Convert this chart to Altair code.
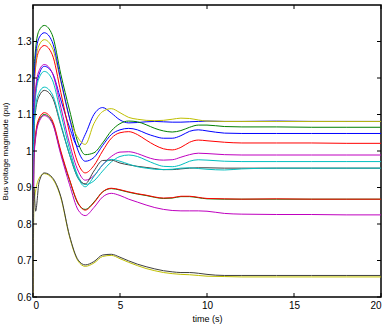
import altair as alt
import pandas as pd

# time axis (s)
time_s = [0, 0.05, 0.15, 0.35, 0.65, 1.1, 1.6, 2.1, 2.6, 3.0, 3.5, 4.0, 4.5, 5.0, 5.5,
          6.0, 6.5, 7.0, 7.5, 8.0, 8.5, 9.0, 9.5, 10, 11, 12, 14, 16, 18, 20]

# bus voltage magnitudes (pu)
bus01 = [0.45, 1.09, 1.16, 1.21, 1.232, 1.215, 1.14, 1.065, 1.012, 1.045, 1.1, 1.119, 1.104, 1.085, 1.077,
         1.078, 1.08, 1.081, 1.08, 1.079, 1.079, 1.08, 1.081, 1.082, 1.081, 1.081, 1.082, 1.081, 1.081, 1.081]
bus02 = [0.45, 1.2, 1.28, 1.33, 1.344, 1.319, 1.21, 1.112, 1.021, 0.99, 0.995, 1.022, 1.055, 1.075, 1.082,
         1.08, 1.072, 1.062, 1.055, 1.052, 1.056, 1.065, 1.071, 1.071, 1.067, 1.066, 1.066, 1.065, 1.065, 1.065]
bus03 = [0.45, 1.15, 1.23, 1.275, 1.289, 1.265, 1.16, 1.05, 0.965, 0.94, 0.96, 1.0, 1.035, 1.05, 1.053,
         1.045, 1.03, 1.016, 1.006, 1.003, 1.01, 1.024, 1.03, 1.028, 1.024, 1.022, 1.022, 1.022, 1.021, 1.021]
bus04 = [0.45, 1.07, 1.15, 1.2, 1.218, 1.196, 1.103, 1.005, 0.93, 0.908, 0.918, 0.945, 0.97, 0.985, 0.989,
         0.985, 0.975, 0.965, 0.958, 0.957, 0.962, 0.972, 0.976, 0.975, 0.972, 0.971, 0.971, 0.971, 0.971, 0.971]
bus05 = [0.45, 1.09, 1.17, 1.22, 1.237, 1.215, 1.12, 1.02, 0.945, 0.92, 0.932, 0.962, 0.985, 0.997, 0.998,
         0.993, 0.984, 0.977, 0.975, 0.976, 0.983, 0.99, 0.994, 0.993, 0.99, 0.989, 0.989, 0.989, 0.989, 0.989]
bus06 = [0.45, 1.16, 1.24, 1.29, 1.305, 1.284, 1.19, 1.09, 1.035, 1.018, 1.075, 1.108, 1.116, 1.105, 1.092,
         1.087, 1.084, 1.083, 1.084, 1.087, 1.09, 1.089, 1.085, 1.082, 1.081, 1.081, 1.081, 1.081, 1.081, 1.081]
bus07 = [0.45, 1.05, 1.11, 1.15, 1.166, 1.148, 1.07, 0.99, 0.925, 0.91, 0.945, 0.974, 0.975, 0.967, 0.962,
         0.958, 0.955, 0.952, 0.949, 0.949, 0.951, 0.953, 0.954, 0.954, 0.953, 0.953, 0.953, 0.953, 0.953, 0.953]
bus08 = [0.45, 1.18, 1.26, 1.31, 1.324, 1.3, 1.194, 1.09, 1.0, 0.972, 0.982, 1.015, 1.045, 1.058, 1.062,
         1.058, 1.048, 1.04, 1.035, 1.035, 1.042, 1.054, 1.058, 1.055, 1.049, 1.048, 1.048, 1.048, 1.048, 1.048]
bus09 = [0.45, 0.98, 1.04, 1.085, 1.1, 1.08, 0.995, 0.92, 0.855, 0.84, 0.86, 0.888, 0.897, 0.893, 0.887,
         0.882, 0.878, 0.873, 0.87, 0.871, 0.875, 0.875, 0.872, 0.869, 0.868, 0.868, 0.868, 0.868, 0.868, 0.868]
bus10 = [0.45, 0.99, 1.045, 1.09, 1.105, 1.085, 1.0, 0.922, 0.857, 0.838, 0.858, 0.888, 0.898, 0.894, 0.888,
         0.883, 0.879, 0.874, 0.871, 0.872, 0.876, 0.876, 0.873, 0.87, 0.869, 0.868, 0.869, 0.868, 0.868, 0.868]
bus11 = [0.45, 1.05, 1.12, 1.16, 1.175, 1.156, 1.074, 0.99, 0.925, 0.902, 0.93, 0.962, 0.977, 0.972, 0.964,
         0.957, 0.953, 0.95, 0.949, 0.95, 0.953, 0.954, 0.952, 0.95, 0.948, 0.951, 0.953, 0.953, 0.953, 0.953]
bus12 = [0.45, 0.97, 1.035, 1.08, 1.097, 1.077, 0.99, 0.908, 0.838, 0.823, 0.845, 0.874, 0.884, 0.878, 0.868,
         0.86, 0.852, 0.845, 0.84, 0.837, 0.836, 0.836, 0.836, 0.835, 0.829, 0.827, 0.826, 0.826, 0.825, 0.825]
bus13 = [0.45, 0.85, 0.89, 0.925, 0.938, 0.925, 0.872, 0.765, 0.698, 0.684, 0.693, 0.711, 0.714, 0.705, 0.695,
         0.686, 0.678, 0.672, 0.667, 0.664, 0.662, 0.661, 0.659, 0.657, 0.656, 0.655, 0.655, 0.655, 0.655, 0.655]
bus14 = [0.45, 0.9, 0.835, 0.915, 0.94, 0.928, 0.875, 0.768, 0.701, 0.688, 0.697, 0.715, 0.717, 0.709, 0.699,
         0.69, 0.683, 0.677, 0.672, 0.669, 0.667, 0.667, 0.665, 0.662, 0.659, 0.659, 0.659, 0.659, 0.659, 0.659]

bus_names = ["s01", "s02", "s03", "s04", "s05", "s06", "s07",
             "s08", "s09", "s10", "s11", "s12", "s13", "s14"]
bus_series = [bus01, bus02, bus03, bus04, bus05, bus06, bus07,
              bus08, bus09, bus10, bus11, bus12, bus13, bus14]
line_colors = ["#0000FF", "#008000", "#FF0000", "#00BFBF", "#BF00BF", "#BFBF00", "#404040",
               "#0000FF", "#008000", "#FF0000", "#00BFBF", "#BF00BF", "#BFBF00", "#404040"]

x_ticks = [0, 5, 10, 15, 20]
y_ticks = [0.6, 0.7, 0.8, 0.9, 1.0, 1.1, 1.2, 1.3]

rows = []
for name, vals in zip(bus_names, bus_series):
    for t, v in zip(time_s, vals):
        rows.append({"bus": name, "t": t, "v": v})
df = pd.DataFrame(rows)

W, H = 348, 292
FONT = "Liberation Sans"
xs = alt.Scale(domain=[0, 20], nice=False, zero=False)
ys = alt.Scale(domain=[0.6, 1.4], nice=False, zero=False)

x_axis = alt.Axis(
    values=x_ticks, title="time (s)", grid=False, domain=False, ticks=False,
    labelFont=FONT, labelFontSize=10, labelColor="black", labelPadding=3,
    titleFont=FONT, titleFontSize=9, titleFontWeight="normal", titleColor="black",
    titleY=21, titleBaseline="middle")
y_axis = alt.Axis(
    values=y_ticks, format="~g", title="Bus voltage magnitude (pu)", grid=False,
    domain=False, ticks=False,
    labelFont=FONT, labelFontSize=10, labelColor="black", labelPadding=2,
    titleFont=FONT, titleFontSize=8, titleFontWeight="normal", titleColor="black",
    titleX=-28, titleY=H / 2, titleBaseline="middle", titleAlign="center")

lines = alt.Chart(df).mark_line(interpolate="monotone", strokeWidth=1, clip=True).encode(
    x=alt.X("t:Q", scale=xs, axis=x_axis),
    y=alt.Y("v:Q", scale=ys, axis=y_axis),
    color=alt.Color("bus:N", scale=alt.Scale(domain=bus_names, range=line_colors), legend=None),
)

xt = pd.DataFrame({"t": x_ticks})
yt = pd.DataFrame({"v": y_ticks})

xb = alt.Chart(xt).mark_rule(color="black", strokeWidth=1).encode(
    x=alt.X("t:Q", scale=xs, axis=x_axis), y=alt.value(H), y2=alt.value(H - 4))
xtop = alt.Chart(xt).mark_rule(color="black", strokeWidth=1).encode(
    x=alt.X("t:Q", scale=xs, axis=x_axis), y=alt.value(0), y2=alt.value(4))
yl = alt.Chart(yt).mark_rule(color="black", strokeWidth=1).encode(
    y=alt.Y("v:Q", scale=ys, axis=y_axis), x=alt.value(0), x2=alt.value(4))
yr = alt.Chart(yt).mark_rule(color="black", strokeWidth=1).encode(
    y=alt.Y("v:Q", scale=ys, axis=y_axis), x=alt.value(W), x2=alt.value(W - 4))

chart = alt.layer(lines, xb, xtop, yl, yr).properties(
    width=W, height=H,
    padding={"left": 33, "top": 5, "right": 8, "bottom": 31},
    autosize=alt.AutoSizeParams(type="none"),
    background="white",
).configure_view(stroke="black", strokeWidth=1.5)

chart.save("out.html", embed_options={"renderer": "svg", "actions": False})
